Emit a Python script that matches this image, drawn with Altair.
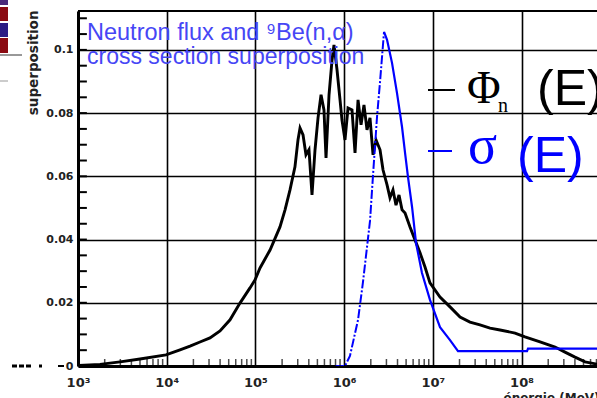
import altair as alt
import pandas as pd

# Neutron flux (black), log10(E) and value
flux_logE = [3.011, 3.248, 3.474, 3.699, 3.992, 4.150, 4.263, 4.375, 4.488, 4.601,
             4.714, 4.826, 4.939, 4.995, 5.052, 5.165, 5.277, 5.334, 5.390, 5.446,
             5.480, 5.503, 5.537, 5.570, 5.604, 5.638, 5.672, 5.706, 5.740, 5.773,
             5.796, 5.830, 5.864, 5.886, 5.920, 5.954, 5.976, 6.010, 6.044, 6.089,
             6.123, 6.157, 6.191, 6.224, 6.258, 6.292, 6.326, 6.360, 6.405, 6.439,
             6.484, 6.517, 6.551, 6.585, 6.619, 6.653, 6.687, 6.743, 6.799, 6.856,
             6.912, 6.968, 7.081, 7.194, 7.307, 7.419, 7.532, 7.645, 7.758, 7.927,
             8.039, 8.209, 8.378, 8.490, 8.603, 8.716, 8.851]
flux_val = [0.0002, 0.0005, 0.0013, 0.0022, 0.0035, 0.0051, 0.0063, 0.0076, 0.0089, 0.0111,
            0.0146, 0.0199, 0.0247, 0.0272, 0.0310, 0.0367, 0.0440, 0.0494, 0.0557, 0.0630,
            0.0715, 0.0753, 0.0731, 0.0668, 0.0684, 0.0541, 0.0684, 0.0785, 0.0858, 0.0810,
            0.0658, 0.0858, 0.0968, 0.1016, 0.0937, 0.0842, 0.0778, 0.0715, 0.0816, 0.0810,
            0.0674, 0.0842, 0.0763, 0.0826, 0.0747, 0.0785, 0.0668, 0.0715, 0.0684, 0.0620,
            0.0573, 0.0532, 0.0557, 0.0509, 0.0541, 0.0494, 0.0484, 0.0440, 0.0399, 0.0358,
            0.0313, 0.0263, 0.0218, 0.0187, 0.0155, 0.0139, 0.0130, 0.0120, 0.0114, 0.0104,
            0.0092, 0.0076, 0.0060, 0.0044, 0.0028, 0.0013, 0.0006]

# Cross section (blue): rising part (dash-dot) and falling part (solid)
xs_rise_logE = [5.897, 6.010, 6.066, 6.157, 6.213, 6.292, 6.326, 6.371, 6.405, 6.450]
xs_rise_val = [0.0, 0.0, 0.0032, 0.0146, 0.0266, 0.0459, 0.0604, 0.0788, 0.0899, 0.1057]
xs_fall_logE = [6.450, 6.484, 6.540, 6.596, 6.653, 6.687, 6.720, 6.766, 6.811, 6.878,
                6.968, 7.081, 7.194, 7.284, 8.062, 8.073, 8.851]
xs_fall_val = [0.1057, 0.1032, 0.0959, 0.0864, 0.0756, 0.0674, 0.0598, 0.0503, 0.0389, 0.0294,
               0.0209, 0.0123, 0.0082, 0.0047, 0.0047, 0.0055, 0.0055]

x_major = [1e3, 1e4, 1e5, 1e6, 1e7, 1e8]
y_major = [0, 0.02, 0.04, 0.06, 0.08, 0.1]
x_minor = [float(m * 10 ** k) for k in range(3, 9) for m in range(2, 10) if m * 10 ** k <= 7.0e8]
y_minor = [round(0.005 * i, 3) for i in range(1, 23)]

# slide artefact at the top-left corner (colour bands)
band_colors = ["#4a2a7a", "#8a0a12", "#2c1b84", "#8a0a12"]

X_MAX = 10 ** 8.851
Y_MAX = 0.1123
W, H = 519, 355

flux = pd.DataFrame({"E": [10 ** e for e in flux_logE], "v": flux_val})
rise = pd.DataFrame({"E": [10 ** e for e in xs_rise_logE], "v": xs_rise_val})
fall = pd.DataFrame({"E": [10 ** e for e in xs_fall_logE], "v": xs_fall_val})
xmin_df = pd.DataFrame({"E": x_minor})
# y minor ticks sit just inside the left axis
ymin_df = pd.DataFrame({"v": y_minor, "E": [1e3] * len(y_minor), "E2": [10 ** 3.1] * len(y_minor)})
one = pd.DataFrame({"k": [0]})

LF = "DejaVu Sans"
xs = alt.Scale(type="log", domain=[1e3, X_MAX], clamp=True)
ys = alt.Scale(domain=[0, Y_MAX], nice=False, zero=True)

x_axis = alt.Axis(values=x_major, grid=True, gridColor="black", gridWidth=1.6, gridOpacity=1,
                  domain=True, domainColor="black", domainWidth=3, ticks=False,
                  labelExpr="'10' + ['⁰','¹','²','³','⁴','⁵','⁶','⁷','⁸','⁹'][round(log(datum.value)/LN10)]",
                  labelFont=LF, labelFontSize=13, labelFontWeight="bold", labelColor="#222",
                  labelPadding=10, labelFlush=False, labelOverlap=False,
                  title="énergie (MeV)", titleFont=LF, titleFontSize=12, titleFontWeight="bold",
                  titleColor="#222", titleX=425, titleY=35, titleAlign="left",
                  titleBaseline="alphabetic", titleAnchor="start")
y_axis = alt.Axis(values=y_major, grid=True, gridColor="black", gridWidth=1.6, gridOpacity=1,
                  domain=True, domainColor="black", domainWidth=3, ticks=False,
                  labelExpr="format(datum.value, '.2~f')",
                  labelFont=LF, labelFontSize=11, labelFontWeight="bold", labelColor="#222",
                  labelPadding=5, labelFlush=False, labelOverlap=False,
                  title="superposition", titleFont=LF, titleFontSize=13.5, titleFontWeight="bold",
                  titleColor="#222", titleX=-45, titleY=-1, titleAngle=270, titleAlign="right",
                  titleBaseline="middle", titleAnchor="start")

X = alt.X("E:Q", scale=xs, axis=x_axis)
Y = alt.Y("v:Q", scale=ys, axis=y_axis)

flux_line = alt.Chart(flux).mark_line(color="black", strokeWidth=2.9, clip=True).encode(x=X, y=Y)
rise_line = alt.Chart(rise).mark_line(color="#0000ff", strokeWidth=2, strokeDash=[9, 2, 2, 2], clip=True).encode(x=X, y=Y)
fall_line = alt.Chart(fall).mark_line(color="#0000ff", strokeWidth=2.2, clip=True).encode(x=X, y=Y)

ytick = alt.Chart(ymin_df).mark_rule(color="black", strokeWidth=2).encode(
    y=Y, x=X, x2="E2:Q")
xtick = alt.Chart(xmin_df).mark_tick(color="black", thickness=1.5, size=7, orient="vertical").encode(
    x=X, y=alt.value(H - 3.5))
top_line = alt.Chart(one).mark_rule(color="black", strokeWidth=2).encode(
    x=alt.value(0), x2=alt.value(W), y=alt.value(0))

def txt(s, x, y, size, color, font, weight="normal", style="normal"):
    return alt.Chart(one).mark_text(text=s, align="left", baseline="alphabetic", fontSize=size,
                                    color=color, font=font, fontWeight=weight,
                                    fontStyle=style).encode(x=alt.value(x), y=alt.value(y))

def box(x0, x1, y0, y1, color):
    return alt.Chart(one).mark_rect(color=color).encode(
        x=alt.value(x0), x2=alt.value(x1), y=alt.value(y0), y2=alt.value(y1))

def seg(x0, x1, y, color, width, dash=None):
    kw = {"color": color, "strokeWidth": width}
    if dash:
        kw["strokeDash"] = dash
    return alt.Chart(one).mark_rule(**kw).encode(x=alt.value(x0), x2=alt.value(x1), y=alt.value(y))

title_col = "#4646f5"
t1 = txt("Neutron flux and ⁹Be(n,α)", 9, 29, 23.5, title_col, "Liberation Sans")
t2 = txt("cross section superposition", 9, 53, 23, title_col, "Liberation Sans")

leg_black = seg(350, 377, 79, "black", 2)
leg_blue = seg(350, 374, 140, "#0000ff", 2)
phi = txt("Φ", 389, 92, 46, "black", "Liberation Serif")
phi_n = txt("n", 420, 101, 20, "black", "Liberation Serif")
phi_E = txt("(E)", 459, 94, 50, "black", "Liberation Sans")
sig = txt("σ", 390, 152, 54, "#0000ff", "Liberation Serif")
sig_E = txt("(E)", 439, 161, 50, "#0000ff", "Liberation Sans")

# decorations outside the plot (slide artefacts)
b1 = box(-78, -70, -11, -6, band_colors[0])
b2 = box(-78, -70, -4, 10, band_colors[1])
b3 = box(-78, -70, 12, 26, band_colors[2])
b4 = box(-78, -70, 27, 42, band_colors[3])
l1 = seg(-78, -56, 44, "#333", 1)
l2 = seg(-78, -70, 70, "#999", 1)
d1 = seg(-66, -45, H, "black", 3, [5, 2])
d2 = seg(-39, -36, H, "black", 3)
d3 = seg(-20, -14, H, "black", 2)

chart = alt.layer(
    flux_line, rise_line, fall_line, xtick, top_line,
    t1, t2, leg_black, leg_blue, phi, phi_n, phi_E, sig, sig_E,
    b1, b2, b3, b4, l1, l2, d1, d2, d3, ytick
).resolve_scale(x="shared", y="shared").properties(
    width=W, height=H,
    padding={"left": 78, "top": 11, "right": 0, "bottom": 32},
    autosize=alt.AutoSizeParams(type="none"),
    background="white",
).configure_view(stroke=None)

chart.save("out.html", embed_options={"renderer": "svg", "actions": False})
